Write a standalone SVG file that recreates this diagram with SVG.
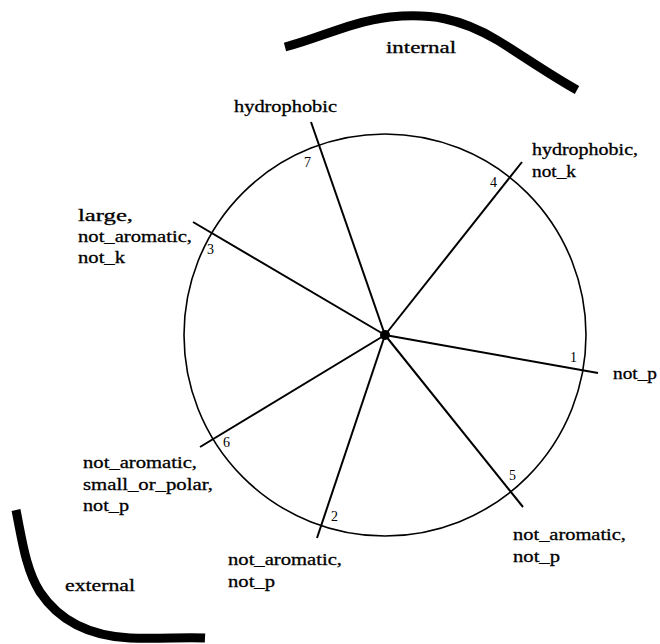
<svg xmlns="http://www.w3.org/2000/svg" width="660" height="644" viewBox="0 0 660 644">
<style>
.lbl{font-family:"Liberation Serif",serif;font-size:17px;fill:#000;stroke:#000;stroke-width:0.3}
.num{font-family:"Liberation Serif",serif;font-size:14px;fill:#000}
.spoke{stroke:#000;stroke-width:2;fill:none;stroke-linecap:butt}
.band{stroke:#000;stroke-width:9;fill:none;stroke-linecap:butt;stroke-linejoin:round}
</style>
<rect width="660" height="644" fill="#fff"/>
<g id="regions">
<path class="band" d="M285,47 C320,38 350,22 390,17 C430,13 460,18 497,40 C520,54 550,75 577,90"/>
<text class="lbl" x="386" y="53" textLength="70" lengthAdjust="spacingAndGlyphs">internal</text>
<path class="band" d="M16,510 C22,540 26,570 40,592 C60,622 90,636 130,638 C160,639 185,637 205,638"/>
<text class="lbl" x="65" y="591" textLength="70" lengthAdjust="spacingAndGlyphs">external</text>
</g>
<g id="wheel">
<circle cx="385" cy="335" r="201" fill="none" stroke="#000" stroke-width="1.6"/>
</g>
<g id="connectors">
<line class="spoke" x1="385" y1="335" x2="311" y2="122"/>
<line class="spoke" x1="385" y1="335" x2="522" y2="162"/>
<line class="spoke" x1="385" y1="335" x2="193" y2="222"/>
<line class="spoke" x1="385" y1="335" x2="598" y2="373"/>
<line class="spoke" x1="385" y1="335" x2="523" y2="507"/>
<line class="spoke" x1="385" y1="335" x2="317" y2="538"/>
<line class="spoke" x1="385" y1="335" x2="200" y2="447"/>
</g>
<g id="hub"><circle cx="385" cy="335" r="5" fill="#000"/></g>
<g id="pos7">
<text class="num" x="304" y="167">7</text>
<text class="lbl" x="234" y="112" textLength="103" lengthAdjust="spacingAndGlyphs">hydrophobic</text>
</g>
<g id="pos4">
<text class="num" x="490" y="187">4</text>
<text class="lbl" x="532" y="155" textLength="106" lengthAdjust="spacingAndGlyphs">hydrophobic,</text>
<text class="lbl" x="532" y="177" textLength="44" lengthAdjust="spacingAndGlyphs">not_k</text>
</g>
<g id="pos3">
<text class="num" x="207" y="254">3</text>
<text class="lbl" x="78" y="221" textLength="55" lengthAdjust="spacingAndGlyphs">large,</text>
<text class="lbl" x="78" y="242" textLength="114" lengthAdjust="spacingAndGlyphs">not_aromatic,</text>
<text class="lbl" x="78" y="263" textLength="47" lengthAdjust="spacingAndGlyphs">not_k</text>
</g>
<g id="pos1">
<text class="num" x="570" y="362">1</text>
<text class="lbl" x="613" y="379" textLength="44" lengthAdjust="spacingAndGlyphs">not_p</text>
</g>
<g id="pos5">
<text class="num" x="509" y="480">5</text>
<text class="lbl" x="513" y="540" textLength="113" lengthAdjust="spacingAndGlyphs">not_aromatic,</text>
<text class="lbl" x="513" y="562" textLength="47" lengthAdjust="spacingAndGlyphs">not_p</text>
</g>
<g id="pos2">
<text class="num" x="331" y="521">2</text>
<text class="lbl" x="228" y="565" textLength="114" lengthAdjust="spacingAndGlyphs">not_aromatic,</text>
<text class="lbl" x="228" y="587" textLength="47" lengthAdjust="spacingAndGlyphs">not_p</text>
</g>
<g id="pos6">
<text class="num" x="223" y="447">6</text>
<text class="lbl" x="83" y="468" textLength="114" lengthAdjust="spacingAndGlyphs">not_aromatic,</text>
<text class="lbl" x="83" y="490" textLength="130" lengthAdjust="spacingAndGlyphs">small_or_polar,</text>
<text class="lbl" x="83" y="511" textLength="46" lengthAdjust="spacingAndGlyphs">not_p</text>
</g>
</svg>
